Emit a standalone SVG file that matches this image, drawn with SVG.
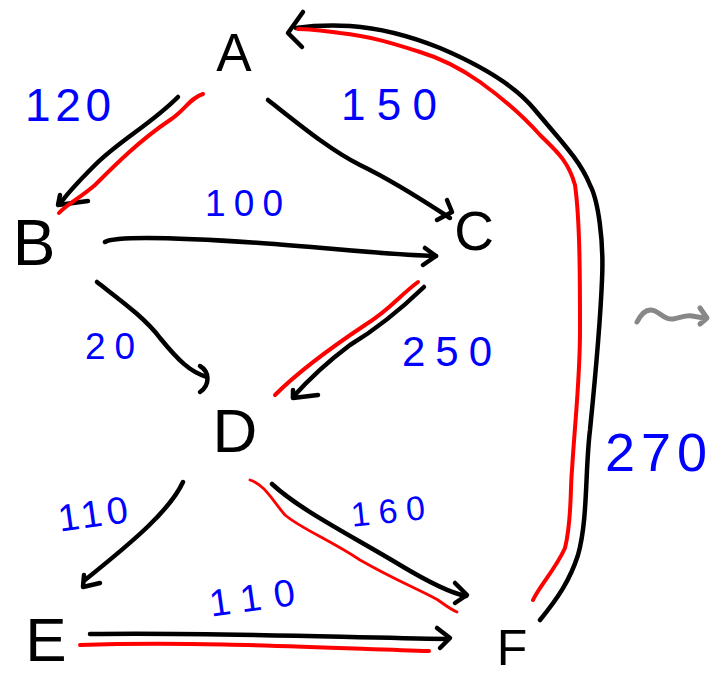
<svg xmlns="http://www.w3.org/2000/svg" width="713" height="676" viewBox="0 0 713 676">
<style>
.node{font-family:"Liberation Sans",Arial,sans-serif;fill:#000;text-anchor:middle}
.lbl{font-family:"Liberation Sans",Arial,sans-serif;fill:#0000ff;text-anchor:middle}
.blk{fill:none;stroke:#000;stroke-width:4.5;stroke-linecap:round;stroke-linejoin:round}
.red{fill:none;stroke:#ff0000;stroke-width:4;stroke-linecap:round;stroke-linejoin:round}
.thin{stroke-width:2.8}
</style>
<rect width="713" height="676" fill="#fff"/>
<g id="connectors">
  <!-- A -> B -->
  <path class="blk" d="M178,97 C150,125 120,140 95,165 C80,180 68,192 60,204"/>
  <path class="blk" d="M60,195 L58,205 L88,201"/>
  <path class="red" d="M203,94 C190,98 185,110 170,120 C140,140 115,165 95,185 C80,198 66,205 59,213"/>
  <!-- A -> C -->
  <path class="blk" d="M268,100 C300,125 330,150 360,165 C385,177 415,195 450,218"/>
  <path class="blk" d="M447,200 L452,212 L437,220"/>
  <!-- B -> C -->
  <path class="blk" d="M105,242 C115,236 170,237 260,243 C330,248 390,255 436,256"/>
  <path class="blk" d="M425,248 L436,256 L423,265"/>
  <!-- B -> D -->
  <path class="blk" d="M97,282 C120,300 145,318 160,338 C178,360 190,372 207,377"/>
  <path class="blk" d="M200,366 C210,372 210,385 200,392"/>
  <!-- C -> D -->
  <path class="blk" d="M424,287 C400,310 375,330 350,345 C330,360 310,378 293,397"/>
  <path class="blk" d="M293,390 L293,398 L318,395"/>
  <path class="red" d="M418,282 C400,295 390,310 365,325 C335,345 300,370 275,395"/>
  <!-- D -> E -->
  <path class="blk" d="M183,482 C170,510 135,540 85,580"/>
  <path class="blk" d="M84,575 L83,587 L100,583"/>
  <!-- D -> F -->
  <path class="blk" d="M272,484 C300,510 350,535 400,565 C430,583 450,593 466,596"/>
  <path class="blk" d="M455,583 L467,595 L455,603"/>
  <path class="red thin" d="M250,480 C265,485 272,500 285,515 C300,528 330,540 360,560 C395,580 420,590 438,600 C445,605 450,609 457,612"/>
  <!-- E -> F -->
  <path class="blk" d="M90,634 C200,632 330,637 448,639"/>
  <path class="blk" d="M437,628 L450,638 L440,648"/>
  <path class="red" d="M80,645 C200,641 330,648 429,651"/>
  <!-- F -> A -->
  <path class="blk" d="M540,620 C558,598 570,580 578,555 C588,520 585,470 590,430 C595,380 600,330 602,280 C604,240 598,200 590,185 C580,160 560,140 535,110 C515,85 480,65 440,48 C410,36 380,28 350,26 C330,25 310,26 296,28"/>
  <path class="blk" d="M303,12 L288,33 L302,47"/>
  <path class="red" d="M533,600 C540,585 555,570 565,548 C572,520 570,490 572,470 C575,420 580,380 580,330 C580,280 580,220 575,185 C568,160 555,150 540,135 C525,118 505,100 480,82 C460,68 440,58 420,52 C395,44 370,36 340,33 C325,31 310,29 298,29"/>
  <!-- squiggle -->
  <path d="M637,322 C642,312 648,308 655,311 C662,314 665,320 673,319 C680,318 685,315 692,316 L704,318 M700,308 L707,318 L700,324" fill="none" stroke="#888" stroke-width="5" stroke-linecap="round" stroke-linejoin="round"/>
</g>
<g id="labels">
  <text class="lbl" x="68" y="121" font-size="46" textLength="86">120</text>
  <text class="lbl" x="389" y="120" font-size="44" textLength="96">150</text>
  <text class="lbl" x="244" y="216" font-size="37" textLength="78">100</text>
  <text class="lbl" x="110" y="359" font-size="37" textLength="50">20</text>
  <text class="lbl" x="447" y="366" font-size="42" textLength="90">250</text>
  <text class="lbl" x="93" y="527" font-size="38" textLength="70" transform="rotate(-8 93 515)">110</text>
  <text class="lbl" x="252" y="611" font-size="38" textLength="86" transform="rotate(-8 252 598)">110</text>
  <text class="lbl" x="388" y="523" font-size="34" textLength="74" transform="rotate(-6 388 512)">160</text>
  <text class="lbl" x="656" y="471" font-size="54" textLength="102">270</text>
</g>
<g id="node-A"><text class="node" x="234" y="71" font-size="53">A</text></g>
<g id="node-B"><text class="node" x="34" y="265" font-size="64">B</text></g>
<g id="node-C"><text class="node" x="474" y="250" font-size="55">C</text></g>
<g id="node-D"><text class="node" x="235" y="452" font-size="62">D</text></g>
<g id="node-E"><text class="node" x="46" y="661" font-size="62">E</text></g>
<g id="node-F"><text class="node" x="512" y="665" font-size="50">F</text></g>
</svg>
